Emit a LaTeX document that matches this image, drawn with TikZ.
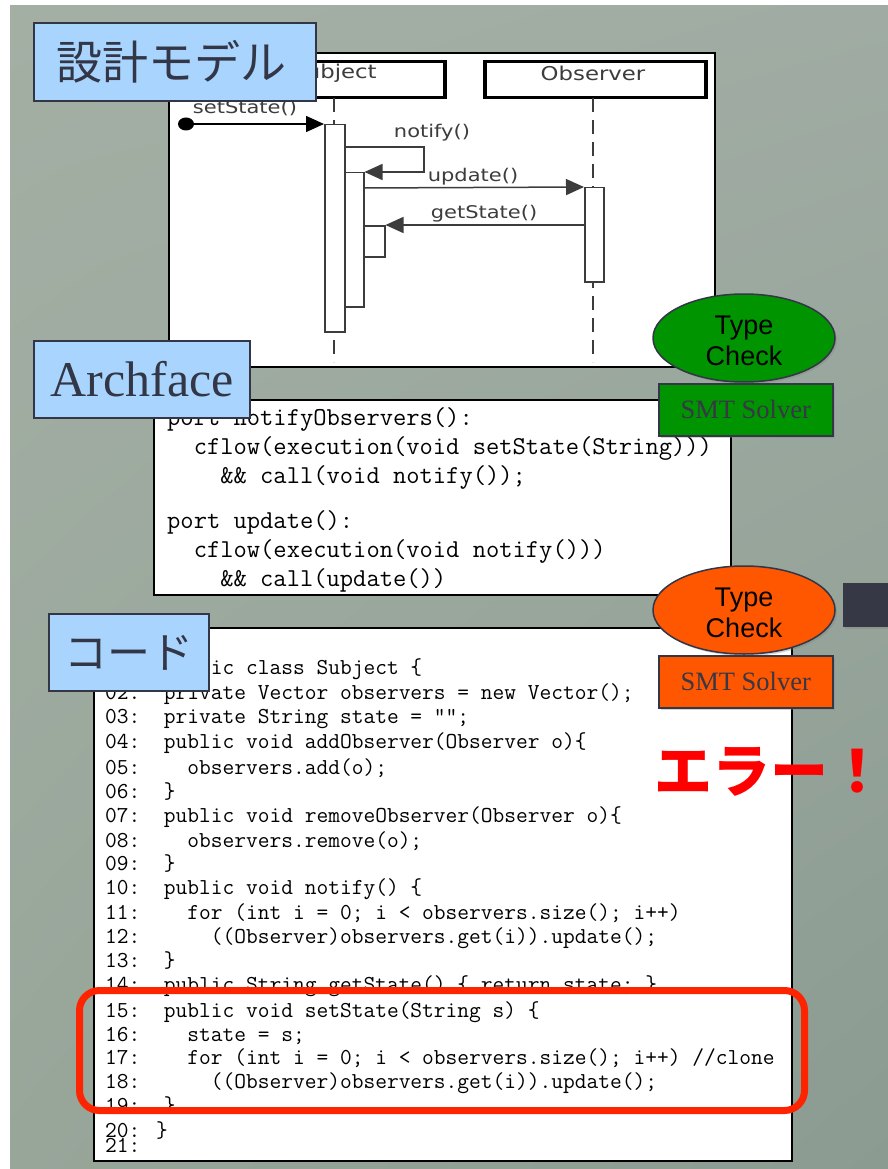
\documentclass[tikz,border=0pt]{standalone}
\usepackage{fontspec}
\usetikzlibrary{arrows.meta,shapes.geometric,shadows,shadings}
\newfontfamily\jpfont{Noto Sans CJK JP}
\newfontfamily\seqfont[FakeStretch=1.2]{DejaVu Sans}
\newfontfamily\timesfont{Liberation Serif}
\newfontfamily\arialfont{Liberation Sans}

\definecolor{bgTL}{RGB}{164,175,164}
\definecolor{bgTR}{RGB}{160,172,163}
\definecolor{bgBL}{RGB}{152,166,154}
\definecolor{bgBR}{RGB}{139,155,145}
\definecolor{titleblue}{RGB}{168,212,253}
\definecolor{titleedge}{RGB}{50,54,70}
\definecolor{seqgray}{RGB}{60,60,60}
\definecolor{tcgreen}{RGB}{0,148,0}
\definecolor{tcorange}{RGB}{255,86,0}
\definecolor{solvertext}{RGB}{55,55,70}
\definecolor{darkslab}{RGB}{54,56,69}
\definecolor{errred}{RGB}{255,0,0}
\definecolor{boxred}{RGB}{255,36,0}

\tikzset{
  titlebox/.style={draw=titleedge, line width=2pt, fill=titleblue},
  seqlabel/.style={font=\seqfont\fontsize{17.5}{17.5}\selectfont, text=seqgray, inner sep=0},
  headlabel/.style={font=\seqfont\fontsize{19}{19}\selectfont, text=seqgray, inner sep=0},
  headbox/.style={draw=black, line width=3.5pt, fill=white},
  actbar/.style={draw=seqgray, line width=1.5pt, fill=white},
  lifeline/.style={draw=seqgray, line width=2pt, dash pattern=on 14pt off 8pt},
  msg/.style={draw=seqgray, line width=1.5pt, -{Triangle[length=18pt,width=16pt]}},
  codeln/.style={anchor=base west, inner sep=0, font=\ttfamily\fontsize{22.8}{22.8}\selectfont},
  arcln/.style={anchor=base west, inner sep=0, font=\ttfamily\fontsize{25.8}{25.8}\selectfont},
  checkoval/.style={ellipse, draw=titleedge, line width=1.5pt, minimum width=182pt,
    minimum height=88pt, inner sep=0, align=center,
    font=\arialfont\fontsize{27}{31}\selectfont,
    drop shadow={shadow xshift=2pt, shadow yshift=-2pt, opacity=0.35}},
  solverbox/.style={draw=titleedge, line width=1.5pt, minimum width=174pt,
    minimum height=52pt, inner sep=0, text=solvertext,
    font=\timesfont\fontsize{26.5}{26.5}\selectfont,
    drop shadow={shadow xshift=2pt, shadow yshift=-2pt, opacity=0.35}},
}

\begin{document}
\begin{tikzpicture}[x=1pt, y=-1pt]
\useasboundingbox (0,0) rectangle (888,1169);

% slide background
\shade[upper left=bgTL, upper right=bgTR, lower left=bgBL, lower right=bgBR]
  (10,6) rectangle (888,1169);

% ---------------- sequence diagram ----------------
\node[draw=black, line width=2pt, fill=white, minimum width=546pt, minimum height=314pt,
  inner sep=0, anchor=north west] (seqframe) at (168,52) {};

\node[headbox, minimum width=218pt, minimum height=36pt, inner sep=0, anchor=north west]
  (subjhead) at (225,60) {};
\node[headlabel] (subjname) at (334,73) {Subject};
\node[headbox, minimum width=221pt, minimum height=36pt, inner sep=0, anchor=north west]
  (obshead) at (483,60) {};
\node[headlabel] (obsname) at (593,73) {Observer};

\coordinate (subjtop) at (334,98);
\coordinate (subjbot) at (334,362);
\coordinate (obstop) at (593,98);
\coordinate (obsbot) at (593,362);
\draw[lifeline] (subjtop) -- (subjbot);
\draw[lifeline] (obstop) -- (obsbot);

% activation bars
\node[actbar, minimum width=20pt, minimum height=207pt, inner sep=0, anchor=north west]
  (barA) at (324,124) {};
\node[actbar, minimum width=19pt, minimum height=134pt, inner sep=0, anchor=north west]
  (barB) at (344,172) {};
\node[actbar, minimum width=21pt, minimum height=31pt, inner sep=0, anchor=north west]
  (barC) at (363,225) {};
\node[actbar, minimum width=19pt, minimum height=94pt, inner sep=0, anchor=north west]
  (barO) at (584,187) {};

% found message setState()
\fill[black] (186,124) ellipse [x radius=8pt, y radius=6.5pt];
\coordinate (foundstart) at (186,124);
\draw[msg, draw=black] (foundstart) -- (barA.north west);
\node[seqlabel] (lblset) at (245,108) {setState()};

% self call notify()
\coordinate (selfout) at (344,147);
\coordinate (selfr1) at (424,147);
\coordinate (selfr2) at (424,172);
\draw[msg] (selfout) -- (selfr1) -- (selfr2) -- (barB.north east);
\node[seqlabel] (lblnotify) at (432,133) {notify()};

% update() and getState()
\coordinate (updfrom) at (363,188);
\draw[msg] (updfrom) -- (barO.north west);
\node[seqlabel] (lblupdate) at (473,177) {update()};
\coordinate (getfrom) at (584,225);
\draw[msg] (getfrom) -- (barC.north east);
\node[seqlabel] (lblget) at (484,214) {getState()};

% ---------------- Archface ports ----------------
\node[draw=black, line width=2pt, fill=white, minimum width=577pt, minimum height=195pt,
  inner sep=0, anchor=north west] (arcframe) at (153,399) {};
\node[arcln] (a1) at (167,425) {port notifyObservers():};
\node[arcln] (a2) at (167,454) {\ \ cflow(execution(void setState(String)))};
\node[arcln] (a3) at (167,483) {\ \ \ \ \&\& call(void notify());};
\node[arcln] (a4) at (167,528) {port update():};
\node[arcln] (a5) at (167,557) {\ \ cflow(execution(void notify()))};
\node[arcln] (a6) at (167,586) {\ \ \ \ \&\& call(update())};

% ---------------- source code ----------------
\node[draw=black, line width=2pt, fill=white, minimum width=698pt, minimum height=533pt,
  inner sep=0, anchor=north west] (codeframe) at (93,627) {};
\node[codeln] (c01) at (105,674) {01:\ \ public class Subject \{};
\node[codeln] (c02) at (105,699) {02:\ \ private Vector observers = new Vector();};
\node[codeln] (c03) at (105,723) {03:\ \ private String state = "";};
\node[codeln] (c04) at (105,748) {04:\ \ public void addObserver(Observer o)\{};
\node[codeln] (c05) at (105,774) {05:\ \ \ \ observers.add(o);};
\node[codeln] (c06) at (105,798) {06:\ \ \}};
\node[codeln] (c07) at (105,822) {07:\ \ public void removeObserver(Observer o)\{};
\node[codeln] (c08) at (105,847) {08:\ \ \ \ observers.remove(o);};
\node[codeln] (c09) at (105,870) {09:\ \ \}};
\node[codeln] (c10) at (105,894) {10:\ \ public void notify() \{};
\node[codeln] (c11) at (105,919) {11:\ \ \ \ for (int i = 0; i < observers.size(); i++)};
\node[codeln] (c12) at (105,943) {12:\ \ \ \ \ \ ((Observer)observers.get(i)).update();};
\node[codeln] (c13) at (105,967) {13:\ \ \}};
\node[codeln] (c14) at (105,991) {14:\ \ public String getState() \{ return state; \}};
\node[codeln] (c15) at (105,1017) {15:\ \ public void setState(String s) \{};
\node[codeln] (c16) at (105,1041) {16:\ \ \ \ state = s;};
\node[codeln] (c17) at (105,1064) {17:\ \ \ \ for (int i = 0; i < observers.size(); i++) //clone};
\node[codeln] (c18) at (105,1088) {18:\ \ \ \ \ \ ((Observer)observers.get(i)).update();};
\node[codeln] (c19) at (105,1112) {19:\ \ \}};
\node[codeln] (c20) at (105,1137) {20: \}};
\node[codeln] (c21) at (105,1152) {21:};

% highlighted setState block
\draw[boxred, line width=7pt, rounded corners=20pt] (79.5,990.5) rectangle (804.5,1110.5);

% ---------------- checkers ----------------
\node[checkoval, fill=tcgreen] (tc1) at (744,338) {\rule{0pt}{0pt}\\[-6pt]Type\\Check};
\node[solverbox, fill=tcgreen, anchor=north west] (smt1) at (658,383) {SMT Solver};
\node[checkoval, fill=tcorange] (tc2) at (744,610) {\rule{0pt}{0pt}\\[-6pt]Type\\Check};
\node[solverbox, fill=tcorange, anchor=north west] (smt2) at (658,655) {SMT Solver};

\node[fill=darkslab, minimum width=46pt, minimum height=44pt, inner sep=0, anchor=north west,
  drop shadow={shadow xshift=2pt, shadow yshift=-2pt, opacity=0.3}] (slab) at (843,583) {};

\node[text=errred, font=\jpfont\bfseries\fontsize{58}{58}\selectfont, inner sep=0]
  (err) at (770,772) {エラー！};

% ---------------- section titles ----------------
\node[titlebox, minimum width=282pt, minimum height=78pt, inner sep=0, anchor=north west,
  font=\jpfont\fontsize{46}{46}\selectfont, text=titleedge] (t1) at (33,22) {\hspace{-8pt}設計モデル};
\node[titlebox, minimum width=216pt, minimum height=77pt, inner sep=0, anchor=north west,
  font=\timesfont\fontsize{50}{50}\selectfont, text=titleedge] (t2) at (33,340) {Archface};
\node[titlebox, minimum width=160pt, minimum height=77pt, inner sep=0, anchor=north west,
  font=\jpfont\fontsize{43}{43}\selectfont, text=titleedge] (t3) at (48,613) {コード};
\end{tikzpicture}
\end{document}
